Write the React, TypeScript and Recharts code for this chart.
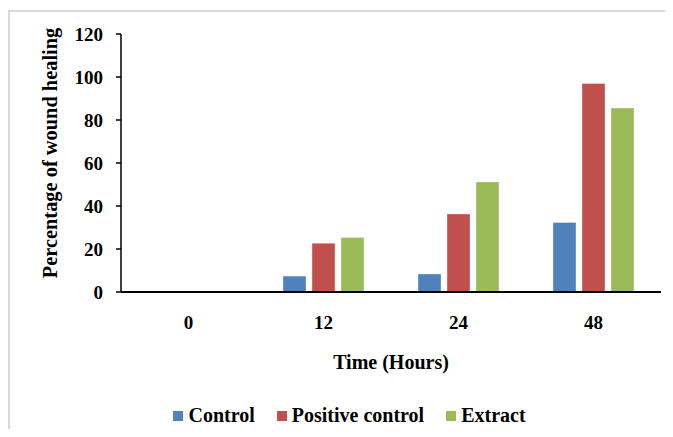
import React from "react";
import { BarChart, Bar, XAxis, YAxis, Legend } from "recharts";

const hours = ["0", "12", "24", "48"];
const controlValues = [0, 7.4, 8.4, 32.3];
const positiveControlValues = [0, 22.7, 36.3, 97.0];
const extractValues = [0, 25.4, 51.2, 85.6];
const yTicks = [0, 20, 40, 60, 80, 100, 120];

const series = [
    { key: "control", name: "Control", color: "#4F81BD" },
    { key: "positive", name: "Positive control", color: "#C0504D" },
    { key: "extract", name: "Extract", color: "#9BBB59" },
];

const data = hours.map((h, i) => ({
    hour: h,
    control: controlValues[i],
    positive: positiveControlValues[i],
    extract: extractValues[i],
}));

const FONT = "'Liberation Serif', 'Times New Roman', serif";

function LegendContent() {
    return (
        <div
            style={{
                display: "flex",
                justifyContent: "center",
                alignItems: "center",
                fontFamily: FONT,
                fontWeight: "bold",
                fontSize: 20,
                color: "#000",
                paddingLeft: 38,
                paddingTop: 1,
            }}
        >
            {series.map((s, i) => (
                <div
                    key={s.key}
                    style={{ display: "flex", alignItems: "center", marginLeft: i === 0 ? 0 : 22 }}
                >
                    <span style={{ width: 10, height: 10, background: s.color, display: "inline-block", marginRight: 5 }} />
                    <span>{s.name}</span>
                </div>
            ))}
        </div>
    );
}

export default function App() {
    return (
        <div style={{ position: "relative", margin: -8, width: 673, height: 437, overflow: "hidden", background: "#fff" }}>
            <div
                style={{
                    position: "absolute",
                    left: 8,
                    top: 10,
                    width: 700,
                    height: 460,
                    border: "2px solid #d9d9d9",
                }}
            />
            <div style={{ position: "absolute", left: 0, top: 0 }}>
                <BarChart
                    width={673}
                    height={437}
                    data={data}
                    margin={{ top: 34, right: 12, left: 0, bottom: 8 }}
                    barCategoryGap={27}
                    barGap={6}
                >
                    <XAxis
                        dataKey="hour"
                        height={111}
                        tickLine={false}
                        tickSize={6}
                        tickMargin={18}
                        axisLine={{ stroke: "#000", strokeWidth: 2 }}
                        tick={{ fill: "#000", fontFamily: FONT, fontWeight: "bold", fontSize: 19 }}
                        label={{
                            content: ({ viewBox }: any) => (
                                <text
                                    x={viewBox.x + viewBox.width / 2}
                                    y={viewBox.y + 70}
                                    textAnchor="middle"
                                    dominantBaseline="central"
                                    fontFamily={FONT}
                                    fontWeight="bold"
                                    fontSize={20}
                                    fill="#000"
                                >
                                    Time (Hours)
                                </text>
                            ),
                        }}
                    />
                    <YAxis
                        width={121}
                        domain={[0, 120]}
                        ticks={yTicks}
                        interval={0}
                        tickSize={5}
                        tickMargin={13}
                        axisLine={{ stroke: "#000", strokeWidth: 1.5 }}
                        tickLine={{ stroke: "#000", strokeWidth: 1.5 }}
                        tick={{ fill: "#000", fontFamily: FONT, fontWeight: "bold", fontSize: 19 }}
                        label={{
                            content: ({ viewBox }: any) => {
                                const cx = viewBox.x + 50;
                                const cy = viewBox.y + viewBox.height / 2 - 10;
                                return (
                                    <text
                                        x={cx}
                                        y={cy}
                                        transform={`rotate(-90 ${cx} ${cy})`}
                                        textAnchor="middle"
                                        dominantBaseline="central"
                                        fontFamily={FONT}
                                        fontWeight="bold"
                                        fontSize={20.4}
                                        fill="#000"
                                    >
                                        Percentage of wound healing
                                    </text>
                                );
                            },
                        }}
                    />
                    <Legend verticalAlign="bottom" height={26} content={<LegendContent />} />
                    {series.map((s) => (
                        <Bar
                            key={s.key}
                            dataKey={s.key}
                            name={s.name}
                            fill={s.color}
                            stroke="#ffffff"
                            strokeOpacity={0.35}
                            isAnimationActive={false}
                        />
                    ))}
                </BarChart>
            </div>
        </div>
    );
}
